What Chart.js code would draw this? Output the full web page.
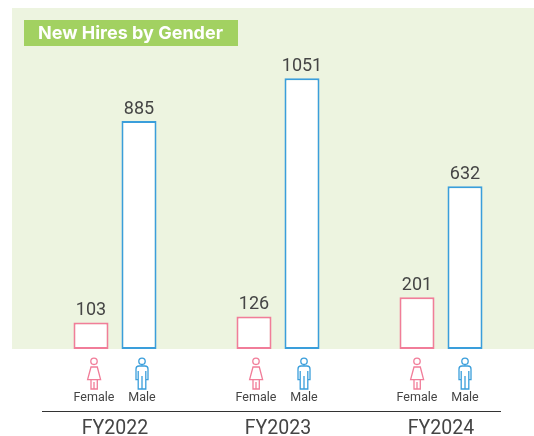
<!DOCTYPE html>
<html>
<head>
<meta charset="utf-8">
<style>
  html, body { margin: 0; padding: 0; background: #fff; }
  canvas { display: block; }
</style>
<script src="https://cdn.jsdelivr.net/npm/chart.js@4"></script>
</head>
<body>
<canvas id="hiresChart" width="534" height="436"></canvas>
<script>
const fiscalYears = ['FY2022', 'FY2023', 'FY2024'];
const femaleHires = [103, 126, 201];
const maleHires = [885, 1051, 632];

const PINK = '#f17d99';
const BLUE = '#3a9edb';
const TEXT = '#454545';
const FONT = 'Roboto, sans-serif';

// icons sit a little off the bar centres in the original
const iconShift = [3, 2, 0];

function drawFemale(ctx, x, y) {
  ctx.beginPath();
  ctx.arc(x, y + 3.3, 3.2, 0, Math.PI * 2);
  ctx.moveTo(x - 3, y + 9);
  ctx.lineTo(x + 3.3, y + 9);
  ctx.lineTo(x + 6.6, y + 21.7);
  ctx.lineTo(x - 6.4, y + 21.7);
  ctx.closePath();
  ctx.moveTo(x - 3, y + 21.7);
  ctx.lineTo(x - 3, y + 31);
  ctx.lineTo(x + 3.3, y + 31);
  ctx.lineTo(x + 3.3, y + 21.7);
  ctx.moveTo(x, y + 24);
  ctx.lineTo(x, y + 31);
  ctx.stroke();
}

function drawMale(ctx, x, y) {
  ctx.beginPath();
  ctx.arc(x, y + 3.3, 3.2, 0, Math.PI * 2);
  ctx.moveTo(x - 3.8, y + 31);
  ctx.lineTo(x - 3.8, y + 21.7);
  ctx.lineTo(x - 6, y + 21.7);
  ctx.lineTo(x - 6, y + 11);
  ctx.quadraticCurveTo(x - 6, y + 8, x - 3, y + 8);
  ctx.lineTo(x + 3, y + 8);
  ctx.quadraticCurveTo(x + 6, y + 8, x + 6, y + 11);
  ctx.lineTo(x + 6, y + 21.7);
  ctx.lineTo(x + 3.8, y + 21.7);
  ctx.lineTo(x + 3.8, y + 31);
  ctx.closePath();
  ctx.moveTo(x, y + 18);
  ctx.lineTo(x, y + 31);
  ctx.moveTo(x - 3.8, y + 13);
  ctx.lineTo(x - 3.8, y + 21.7);
  ctx.moveTo(x + 3.8, y + 13);
  ctx.lineTo(x + 3.8, y + 21.7);
  ctx.stroke();
}

// green panel and title strip go behind the bars
const panelPlugin = {
  id: 'panel',
  beforeDraw(chart) {
    const ctx = chart.ctx;
    const area = chart.chartArea;
    ctx.save();
    ctx.fillStyle = '#edf4e0';
    ctx.fillRect(12, 8, 522, area.bottom - 8);
    ctx.fillStyle = '#a2d161';
    ctx.fillRect(24, 20, 214, 26);
    ctx.fillStyle = '#fff';
    ctx.font = 'bold 18px Inter, sans-serif';
    ctx.textAlign = 'left';
    ctx.textBaseline = 'middle';
    ctx.fillText('New Hires by Gender', 38, 33.5);
    ctx.restore();
  }
};

// value labels, gender icons and the rule above the years
const labelPlugin = {
  id: 'labels',
  afterDatasetsDraw(chart) {
    const ctx = chart.ctx;
    const bottom = chart.chartArea.bottom;
    ctx.save();
    ctx.textAlign = 'center';
    chart.data.datasets.forEach((ds, i) => {
      chart.getDatasetMeta(i).data.forEach((bar, j) => {
        ctx.fillStyle = TEXT;
        ctx.font = '18px ' + FONT;
        ctx.textBaseline = 'bottom';
        ctx.fillText(ds.data[j], bar.x, bar.y - 3);

        const cx = bar.x + iconShift[j];
        ctx.strokeStyle = i === 0 ? PINK : BLUE;
        ctx.lineWidth = 1.3;
        if (i === 0) drawFemale(ctx, cx, bottom + 9);
        else drawMale(ctx, cx, bottom + 9);

        ctx.fillStyle = TEXT;
        ctx.font = '12.5px ' + FONT;
        ctx.textBaseline = 'middle';
        ctx.fillText(ds.label, cx, bottom + 49);
      });
    });
    ctx.strokeStyle = '#333';
    ctx.lineWidth = 1;
    ctx.beginPath();
    ctx.moveTo(42, bottom + 62.5);
    ctx.lineTo(501, bottom + 62.5);
    ctx.stroke();
    ctx.restore();
  }
};

new Chart(document.getElementById('hiresChart'), {
  type: 'bar',
  data: {
    labels: fiscalYears,
    datasets: [
      { label: 'Female', data: femaleHires, borderColor: PINK, backgroundColor: '#fff', borderWidth: 2, borderSkipped: false },
      { label: 'Male', data: maleHires, borderColor: BLUE, backgroundColor: '#fff', borderWidth: 2, borderSkipped: false }
    ]
  },
  options: {
    responsive: false,
    animation: false,
    layout: { padding: { top: 8, left: 33.5, right: 11.5, bottom: 0 } },
    datasets: { bar: { categoryPercentage: 0.589, barPercentage: 0.73 } },
    plugins: { legend: { display: false }, tooltip: { enabled: false } },
    scales: {
      x: {
        grid: { display: false },
        border: { display: false },
        // the icons live in this strip, so fix its height instead of growing the tick padding
        afterFit(scale) { scale.height = 87; scale.paddingLeft = 0; scale.paddingRight = 0; },
        ticks: { color: TEXT, padding: 60, font: { family: FONT, size: 19.5 }, maxRotation: 0 }
      },
      y: { display: false, min: 0, max: 1324 }
    }
  },
  plugins: [panelPlugin, labelPlugin]
});
</script>
</body>
</html>
